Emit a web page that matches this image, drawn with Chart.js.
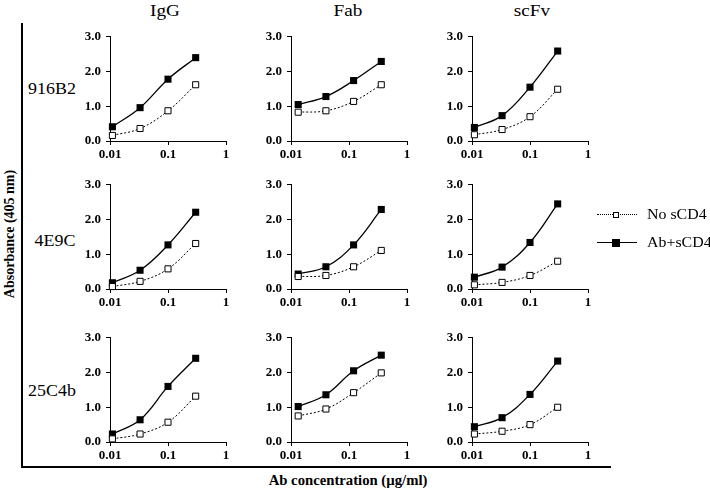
<!DOCTYPE html>
<html>
<head>
<meta charset="utf-8">
<script src="https://cdn.jsdelivr.net/npm/chart.js@4.4.1/dist/chart.umd.min.js"></script>
<style>
body { margin: 0; background: #fff; overflow: hidden; }
#wrap { position: relative; width: 710px; height: 490px; font-family: "Liberation Serif", serif; color: #000; overflow: hidden; }
.panel { position: absolute; }
.lbl { position: absolute; white-space: nowrap; transform: translate(-50%, -50%); }
.title { font-size: 16px; transform: translate(-50%, -50%) scaleX(1.2); }
.row { font-size: 16px; transform: translate(-50%, -50%) scaleX(1.12); }
.axt { font-size: 14px; font-weight: bold; }
.leg { position: absolute; white-space: nowrap; font-size: 15px; transform: translate(0, -50%) scaleX(1.06); transform-origin: left center; }
.line { position: absolute; background: #000; }
</style>
</head>
<body>
<div id="wrap">
  <div class="line" style="left:21px;top:23px;width:2px;height:445px;"></div>
  <div class="line" style="left:21px;top:466px;width:590px;height:2px;"></div>

  <div class="lbl axt" style="left:10px;top:234px;transform:translate(-50%,-50%) rotate(-90deg);">Absorbance (405 nm)</div>
  <div class="lbl axt" style="left:348px;top:481px;transform:translate(-50%,-50%) scaleX(1.05);">Ab concentration (µg/ml)</div>

  <div id="legend"></div>
</div>
<script>
    // concentrations (ug/ml)
    const concIgG = [0.011, 0.033, 0.1, 0.3];
    const concFab = [0.0133, 0.04, 0.12, 0.36];
    const concScFv = [0.011, 0.033, 0.1, 0.3];

    const colTitles = ['IgG', 'Fab', 'scFv'];
    const rowLabels = ['916B2', '4E9C', '25C4b'];
    const seriesNames = ['No sCD4', 'Ab+sCD4'];
    const xTicks = [0.01, 0.1, 1];
    const yTicks = [0, 1, 2, 3];

    // 916B2
    const igg916B2No = [0.16, 0.36, 0.87, 1.62];
    const igg916B2Ab = [0.41, 0.96, 1.78, 2.40];
    const fab916B2No = [0.83, 0.87, 1.14, 1.62];
    const fab916B2Ab = [1.05, 1.28, 1.74, 2.29];
    const scfv916B2No = [0.18, 0.33, 0.70, 1.49];
    const scfv916B2Ab = [0.39, 0.73, 1.55, 2.59];
    // 4E9C
    const igg4E9CNo = [0.07, 0.22, 0.58, 1.31];
    const igg4E9CAb = [0.18, 0.54, 1.27, 2.21];
    const fab4E9CNo = [0.36, 0.39, 0.64, 1.11];
    const fab4E9CAb = [0.43, 0.64, 1.27, 2.29];
    const scfv4E9CNo = [0.12, 0.19, 0.39, 0.80];
    const scfv4E9CAb = [0.34, 0.63, 1.34, 2.45];
    // 25C4b
    const igg25C4bNo = [0.09, 0.23, 0.57, 1.32];
    const igg25C4bAb = [0.23, 0.64, 1.60, 2.41];
    const fab25C4bNo = [0.75, 0.95, 1.42, 1.99];
    const fab25C4bAb = [1.02, 1.36, 2.05, 2.50];
    const scfv25C4bNo = [0.23, 0.31, 0.50, 1.00];
    const scfv25C4bAb = [0.44, 0.70, 1.37, 2.33];

    const concs = [concIgG, concFab, concScFv];
    const panels = [
        [[igg916B2No, igg916B2Ab], [fab916B2No, fab916B2Ab], [scfv916B2No, scfv916B2Ab]],
        [[igg4E9CNo, igg4E9CAb], [fab4E9CNo, fab4E9CAb], [scfv4E9CNo, scfv4E9CAb]],
        [[igg25C4bNo, igg25C4bAb], [fab25C4bNo, fab25C4bAb], [scfv25C4bNo, scfv25C4bAb]]
    ];

    const colX = [110, 291, 472];
    const rowY = [32, 180, 333];
    const plotW = 116, plotH = 109;
    const yAxisW = 40, padTop = 8, xAxisH = 24, padRight = 10;
    const tickFont = { family: 'Liberation Serif', size: 13, weight: 'bold' };

    const wrap = document.getElementById('wrap');

    function addLabel(text, cls, x, y) {
        var d = document.createElement('div');
        d.className = cls;
        d.style.left = x + 'px';
        d.style.top = y + 'px';
        d.textContent = text;
        wrap.appendChild(d);
        return d;
    }

    addLabel(colTitles[0], 'lbl title', 165, 11);
    addLabel(colTitles[1], 'lbl title', 348, 11);
    addLabel(colTitles[2], 'lbl title', 532, 11);
    addLabel(rowLabels[0], 'lbl row', 52, 89);
    addLabel(rowLabels[1], 'lbl row', 55, 241);
    addLabel(rowLabels[2], 'lbl row', 52, 391);

    function toPoints(xs, ys) {
        return xs.map(function(x, i) { return { x: x, y: ys[i] }; });
    }

    function makeDatasets(conc, pair) {
        return [{
            label: seriesNames[0],
            data: toPoints(conc, pair[0]),
            borderColor: '#000',
            borderWidth: 1,
            borderDash: [2, 2],
            tension: 0.4,
            pointStyle: 'rect',
            pointRadius: 4.3,
            pointBorderWidth: 1,
            pointBorderColor: '#000',
            pointBackgroundColor: '#fff',
            clip: false
        }, {
            label: seriesNames[1],
            data: toPoints(conc, pair[1]),
            borderColor: '#000',
            borderWidth: 1.3,
            tension: 0.4,
            pointStyle: 'rect',
            pointRadius: 5,
            pointBorderWidth: 0,
            pointBackgroundColor: '#000',
            clip: false
        }];
    }

    panels.forEach(function(row, r) {
        row.forEach(function(pair, c) {
            var canvas = document.createElement('canvas');
            canvas.className = 'panel';
            canvas.width = yAxisW + plotW + padRight;
            canvas.height = padTop + plotH + xAxisH;
            canvas.style.left = (colX[c] - yAxisW) + 'px';
            canvas.style.top = (rowY[r] - padTop) + 'px';
            wrap.appendChild(canvas);

            new Chart(canvas, {
                type: 'line',
                data: { datasets: makeDatasets(concs[c], pair) },
                options: {
                    responsive: false,
                    animation: false,
                    devicePixelRatio: 1,
                    layout: { padding: { top: padTop, right: padRight, left: 0, bottom: 0 } },
                    plugins: { legend: { display: false }, tooltip: { enabled: false } },
                    scales: {
                        x: {
                            type: 'logarithmic',
                            min: 0.01,
                            max: 1,
                            afterFit: function(s) { s.height = xAxisH; },
                            afterBuildTicks: function(s) { s.ticks = xTicks.map(function(v) { return { value: v }; }); },
                            border: { display: true, color: '#000', width: 1 },
                            grid: { drawOnChartArea: false, drawTicks: true, tickLength: 4, color: '#000' },
                            ticks: {
                                color: '#000', font: tickFont, padding: 2, maxRotation: 0, autoSkip: false,
                                callback: function(v) { return String(v); }
                            }
                        },
                        y: {
                            min: 0,
                            max: 3,
                            afterFit: function(s) { s.width = yAxisW; },
                            afterBuildTicks: function(s) { s.ticks = yTicks.map(function(v) { return { value: v }; }); },
                            border: { display: true, color: '#000', width: 1 },
                            grid: { drawOnChartArea: false, drawTicks: true, tickLength: 4, color: '#000' },
                            ticks: {
                                color: '#000', font: tickFont, padding: 5,
                                callback: function(v) { return v.toFixed(1); }
                            }
                        }
                    }
                }
            });
        });
    });

    // legend
    (function() {
        var items = [
            { y: 214, dash: 'dotted', w: 1, fill: '#fff', size: 6 },
            { y: 242, dash: 'solid', w: 1.5, fill: '#000', size: 8 }
        ];
        items.forEach(function(it, i) {
            var ln = document.createElement('div');
            ln.style.cssText = 'position:absolute;left:597px;width:40px;height:0;border-top:' + it.w + 'px ' + it.dash + ' #000;top:' + it.y + 'px;';
            wrap.appendChild(ln);
            var sq = document.createElement('div');
            sq.style.cssText = 'position:absolute;box-sizing:border-box;border:1px solid #000;background:' + it.fill +
                ';width:' + it.size + 'px;height:' + it.size + 'px;left:' + (616 - it.size / 2) + 'px;top:' + (it.y - it.size / 2 + 0.5) + 'px;';
            wrap.appendChild(sq);
            addLabel(seriesNames[i], 'leg', 647, it.y);
        });
    })();
</script>
</body>
</html>
